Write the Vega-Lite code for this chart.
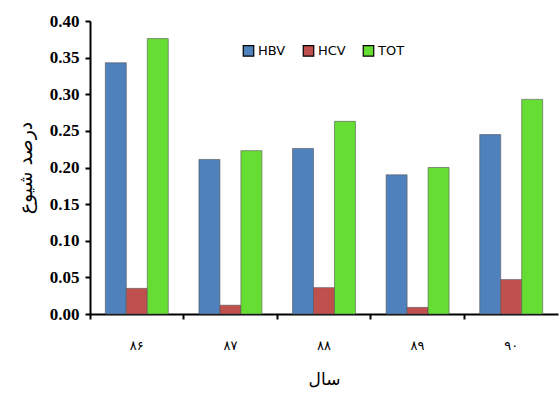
{
  "$schema": "https://vega.github.io/schema/vega-lite/v6.json",
  "width": 468,
  "height": 293,
  "autosize": "none",
  "padding": {"left": 90, "top": 21, "right": 2, "bottom": 93},
  "background": "white",
  "config": {"view": {"stroke": null}},
  "data": {
    "values": [
      {"year": "۸۶", "series": "HBV", "value": 0.343},
      {"year": "۸۶", "series": "HCV", "value": 0.035},
      {"year": "۸۶", "series": "TOT", "value": 0.376},
      {"year": "۸۷", "series": "HBV", "value": 0.211},
      {"year": "۸۷", "series": "HCV", "value": 0.012},
      {"year": "۸۷", "series": "TOT", "value": 0.223},
      {"year": "۸۸", "series": "HBV", "value": 0.226},
      {"year": "۸۸", "series": "HCV", "value": 0.036},
      {"year": "۸۸", "series": "TOT", "value": 0.263},
      {"year": "۸۹", "series": "HBV", "value": 0.190},
      {"year": "۸۹", "series": "HCV", "value": 0.009},
      {"year": "۸۹", "series": "TOT", "value": 0.200},
      {"year": "۹۰", "series": "HBV", "value": 0.245},
      {"year": "۹۰", "series": "HCV", "value": 0.047},
      {"year": "۹۰", "series": "TOT", "value": 0.293}
    ]
  },
  "mark": {"type": "bar", "stroke": "#555555", "strokeWidth": 0.6},
  "encoding": {
    "x": {
      "field": "year",
      "type": "nominal",
      "sort": null,
      "scale": {"paddingInner": 0, "paddingOuter": 0},
      "axis": {
        "title": "سال",
        "titleFont": "DejaVu Sans",
        "titleFontSize": 17,
        "titleFontWeight": "normal",
        "titleColor": "black",
        "titlePadding": 19,
        "labelAngle": 0,
        "labelAlign": "center",
        "labelFont": "DejaVu Sans",
        "labelFontSize": 13,
        "labelColor": "black",
        "labelPadding": 20,
        "domainColor": "black",
        "domainWidth": 2,
        "tickColor": "black",
        "tickWidth": 2,
        "tickSize": 5,
        "bandPosition": 0,
        "labelOffset": 0
      }
    },
    "xOffset": {"field": "series", "type": "nominal", "scale": {"paddingInner": 0, "paddingOuter": 0.73}},
    "y": {
      "field": "value",
      "type": "quantitative",
      "scale": {"domain": [0, 0.4]},
      "axis": {
        "title": "درصد شیوع",
        "titleFont": "DejaVu Sans",
        "titleFontSize": 19,
        "titleFontWeight": "normal",
        "titleColor": "black",
        "titlePadding": 14,
        "values": [0, 0.05, 0.1, 0.15, 0.2, 0.25, 0.3, 0.35, 0.4],
        "format": ".2f",
        "labelFont": "Liberation Serif",
        "labelFontSize": 17,
        "labelFontWeight": "bold",
        "labelColor": "black",
        "labelPadding": 6,
        "grid": false,
        "domainColor": "black",
        "domainWidth": 2,
        "tickColor": "black",
        "tickWidth": 2,
        "tickSize": 5
      }
    },
    "color": {
      "field": "series",
      "type": "nominal",
      "scale": {"domain": ["HBV", "HCV", "TOT"], "range": ["#4F81BD", "#C0504D", "#66DD33"]},
      "legend": {
        "title": null,
        "orient": "none",
        "direction": "horizontal",
        "legendX": 152,
        "legendY": 23,
        "symbolType": "square",
        "symbolSize": 110,
        "symbolStrokeColor": "black",
        "symbolStrokeWidth": 1.2,
        "labelFont": "DejaVu Sans",
        "labelFontSize": 13,
        "labelColor": "black",
        "columnPadding": 14,
        "labelOffset": 3
      }
    }
  }
}
